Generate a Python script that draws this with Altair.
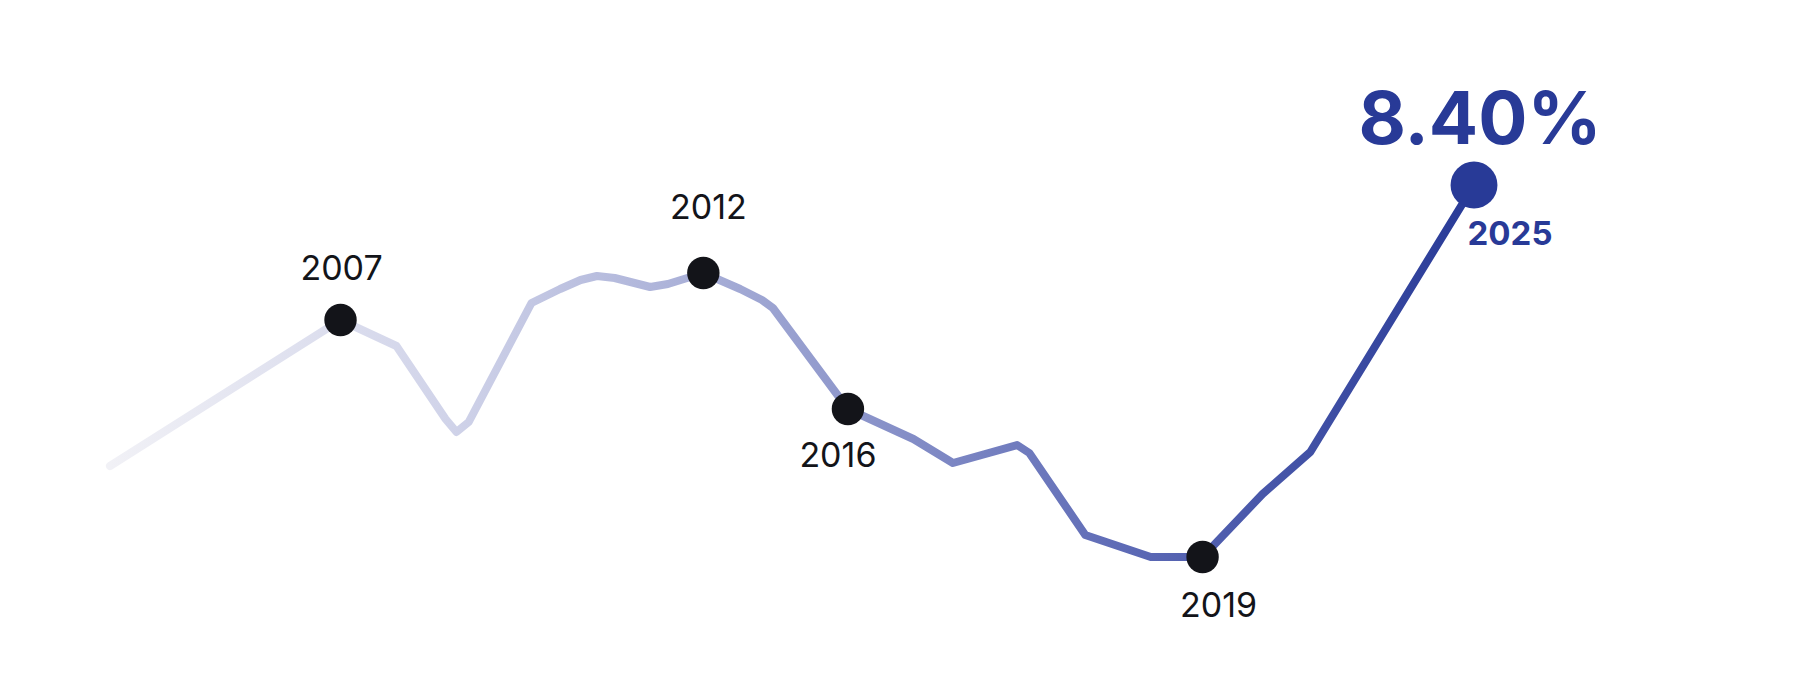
import altair as alt
import pandas as pd

# Series (period index along the x axis, rate in %)
period = [0.0, 16.9, 21.0, 24.6, 25.4, 26.3, 30.9, 33.0, 34.5, 35.7, 37.0, 39.6, 40.9,
          43.5, 46.2, 47.8, 48.6, 54.1, 58.9, 61.8, 66.5, 67.4, 71.5, 76.3, 80.1,
          84.5, 88.0, 100.0]
rate = [5.59, 7.05, 6.79, 6.06, 5.93, 6.03, 7.22, 7.36, 7.45, 7.49, 7.47, 7.38, 7.41,
        7.52, 7.36, 7.25, 7.17, 6.16, 5.86, 5.62, 5.80, 5.72, 4.90, 4.68, 4.68,
        5.31, 5.73, 8.40]

milestone_years = ["2007", "2012", "2016", "2019", "2025"]
milestone_index = [1, 13, 17, 24, 27]
headline = "8.40%"

df = pd.DataFrame({"period": period, "rate": rate, "order": list(range(len(period)))})
ms = pd.DataFrame({
    "year": milestone_years,
    "period": [period[i] for i in milestone_index],
    "rate": [rate[i] for i in milestone_index],
})
ms["headline"] = [""] * (len(ms) - 1) + [headline]

FONT = "Inter"
BLUE = "#283a97"
INK = "#131419"

x = alt.X("period:Q", scale=alt.Scale(domain=[-7.478, 123.02], nice=False, zero=False), axis=None)
y = alt.Y("rate:Q", scale=alt.Scale(domain=[3.37, 10.17], nice=False, zero=False), axis=None)

grad = alt.Gradient(
    gradient="linear",
    stops=[
        alt.GradientStop(offset=0, color="#f1f1f6"),
        alt.GradientStop(offset=0.25, color="#d0d3e9"),
        alt.GradientStop(offset=0.45, color="#a4abd5"),
        alt.GradientStop(offset=0.75, color="#5c69b5"),
        alt.GradientStop(offset=1, color=BLUE),
    ],
    x1=0, x2=1, y1=0, y2=0,
)

base = alt.Chart(df)
line = base.mark_line(strokeWidth=8, strokeCap="round", strokeJoin="round", color=grad).encode(
    x=x, y=y, order="order:Q"
)

msb = alt.Chart(ms)
dots = msb.transform_filter(alt.datum.year != "2025").mark_circle(
    size=1050, color=INK, opacity=1
).encode(x=x, y=y)
last_dot = msb.transform_filter(alt.datum.year == "2025").mark_circle(
    size=2200, color=BLUE, opacity=1
).encode(x=x, y=y)

offsets = {"2007": (1, -50), "2012": (5, -64), "2016": (-10, 48), "2019": (16, 50)}
labels = []
for yr, (dx, dy) in offsets.items():
    labels.append(
        msb.transform_filter(alt.datum.year == yr).mark_text(
            font=FONT, fontSize=34, fontWeight=400, color=INK, dx=dx, dy=dy,
            align="center", baseline="middle"
        ).encode(x=x, y=y, text="year:N")
    )

label_2025 = msb.transform_filter(alt.datum.year == "2025").mark_text(
    font=FONT, fontSize=33, fontWeight=700, color=BLUE, dx=36, dy=50,
    align="center", baseline="middle"
).encode(x=x, y=y, text="year:N")

head = msb.transform_filter(alt.datum.year == "2025").mark_text(
    font=FONT, fontSize=73, fontWeight=700, color=BLUE, dx=6, dy=-63,
    align="center", baseline="middle"
).encode(x=x, y=y, text="headline:N")

chart = alt.layer(line, dots, last_dot, *labels, label_2025, head).properties(
    width=1780, height=680, padding=0, background="white"
).configure_view(stroke=None)

chart.save("out.html", embed_options={"renderer": "svg", "actions": False})
